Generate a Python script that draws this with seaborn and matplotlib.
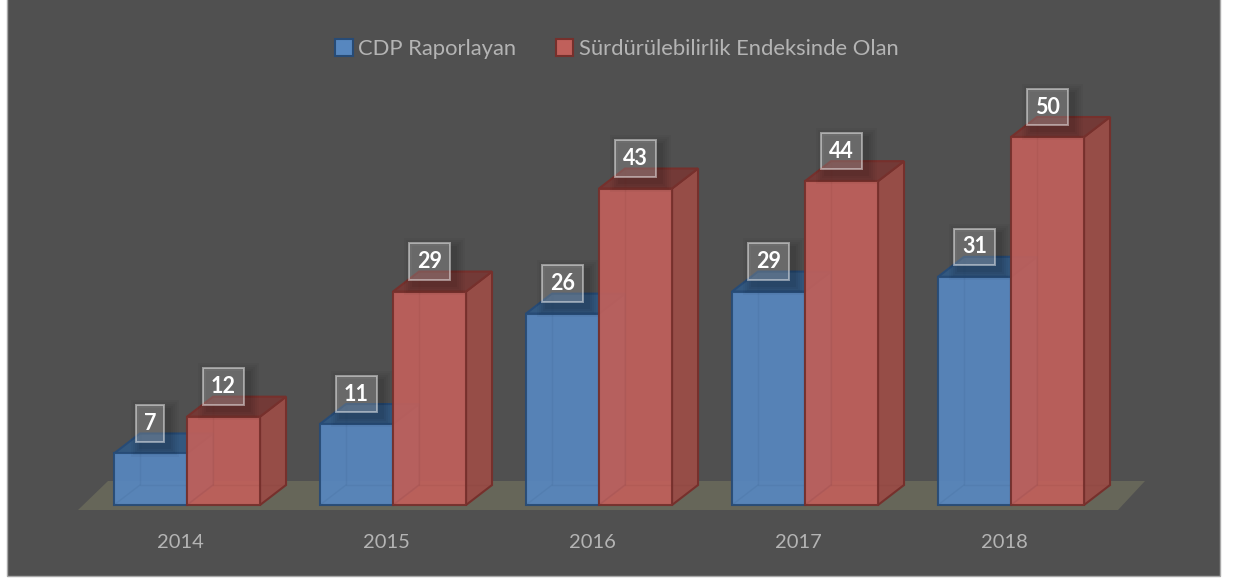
import pandas as pd
import seaborn as sns
import matplotlib.pyplot as plt
from matplotlib.patches import Patch, Polygon, Rectangle
from matplotlib.transforms import ScaledTranslation

years = ["2014", "2015", "2016", "2017", "2018"]
cdp_values = [7, 11, 26, 29, 31]
index_values = [12, 29, 43, 44, 50]
series_names = ["CDP Raporlayan", "Sürdürülebilirlik Endeksinde Olan"]

W, H = 1236, 581
front_colors = ["#5787BF", "#C0605B"]
edge_colors = ["#274B76", "#76302C"]
side_colors = ["#3F648F", "#964D47"]
top_colors = ["#33587F", "#733A37"]

df = pd.DataFrame({
    "yil": years * 2,
    "deger": cdp_values + index_values,
    "seri": [series_names[0]] * 5 + [series_names[1]] * 5,
})

sns.set_theme(style="white")
plt.rcParams["font.family"] = ["Lato", "DejaVu Sans"]

fig = plt.figure(figsize=(W / 100, H / 100), dpi=100, facecolor="white")
# dark panel behind everything, top edge runs off the picture
fig.patches.append(Rectangle((7 / W, 1 - 576 / H), 1213 / W, 580 / H, transform=fig.transFigure,
                             facecolor="#505050", edgecolor="#A8A8A8", linewidth=1, zorder=-1))

# axes runs from the floor line up to the top of the picture
ax = fig.add_axes([84 / W, 1 - 505 / H, 1030 / W, 505 / H])
ax.patch.set_alpha(0)
sns.barplot(data=df, x="yil", y="deger", hue="seri", hue_order=series_names,
            palette=front_colors, saturation=1, width=0.709, gap=0, legend=False,
            linewidth=1.5, ax=ax, zorder=3)
ax.set_xlim(-0.5, 4.5)
ax.set_ylim(0, 505 / 7.36)
sns.despine(ax=ax, left=True, bottom=True)
ax.set_xlabel("")
ax.set_ylabel("")
ax.set_yticks([])
ax.tick_params(axis="x", length=0, pad=21, labelsize=14.5, labelcolor="#B4B4B4")
# year labels sit a little left of the group centre
for lab in ax.get_xticklabels():
    lab.set_transform(lab.get_transform() + ScaledTranslation(-7 / 100, 0, fig.dpi_scale_trans))

dx = 26 / 206
dy = 20 / 7.36

# floor plate
ax.add_patch(Polygon([(-0.5 - 6 / 206, -5 / 7.36), (4.5 + 4 / 206, -5 / 7.36),
                      (4.5 + 31 / 206, 24 / 7.36), (-0.5 + 24 / 206, 24 / 7.36)],
                     facecolor="#666659", edgecolor="none", zorder=1, clip_on=False))

for i, cont in enumerate(ax.containers):
    base_z = 3 + i * 3
    for bar in cont:
        x0, w, h = bar.get_x(), bar.get_width(), bar.get_height()
        bar.set_facecolor(front_colors[i])
        bar.set_edgecolor(edge_colors[i])
        bar.set_alpha(0.93)
        bar.set_zorder(base_z + 2)
        bar.set_clip_on(False)
        ax.add_patch(Polygon([(x0 + w, 0), (x0 + w + dx, dy), (x0 + w + dx, h + dy), (x0 + w, h)],
                             facecolor=side_colors[i], edgecolor=edge_colors[i], linewidth=1.5,
                             zorder=base_z, clip_on=False))
        ax.add_patch(Polygon([(x0, h), (x0 + dx, h + dy), (x0 + w + dx, h + dy), (x0 + w, h)],
                             facecolor=top_colors[i], edgecolor=edge_colors[i], linewidth=1.5,
                             zorder=base_z + 1, clip_on=False))
        # back edges that show through the front face
        ax.plot([x0 + dx, x0 + dx, x0 + w + dx], [h + dy, dy, dy], color=edge_colors[i],
                linewidth=1, alpha=0.1, zorder=base_z + 2.5)
        ax.plot([x0, x0 + dx], [0, dy], color=edge_colors[i], linewidth=1, alpha=0.1,
                zorder=base_z + 2.5)

# value labels, boxes sit a fixed distance above the bar top
labels = []
for cont in ax.containers:
    for bar in cont:
        t = ax.annotate(f"{bar.get_height():.0f}", (bar.get_x() + bar.get_width() / 2, bar.get_height()),
                        xytext=(0, 30 * 0.72), textcoords="offset points", ha="center", va="center",
                        fontsize=15.5, fontweight="bold", color="white", zorder=21,
                        bbox=dict(boxstyle="square,pad=0.36", facecolor=(1, 1, 1, 0.22),
                                  edgecolor=(1, 1, 1, 0.45), linewidth=1.4))
        labels.append(t)

fig.canvas.draw()
for t in labels:
    box = t.get_bbox_patch().get_window_extent()
    # soft shadow under the label box
    for grow, alpha in [(10, 0.03), (8, 0.03), (6, 0.04), (4, 0.04), (2, 0.05)]:
        ax.add_patch(Rectangle((box.x0 + 5 - grow, box.y0 - 5 - grow), box.width + 2 * grow, box.height + 2 * grow,
                               transform=None, facecolor="black", alpha=alpha, edgecolor="none",
                               zorder=20, clip_on=False))

handles = [Patch(facecolor=front_colors[i], edgecolor=edge_colors[i], linewidth=1.5) for i in range(2)]
ax.legend(handles, series_names, loc="center", bbox_to_anchor=(617 / W, 1 - 49 / H),
          bbox_transform=fig.transFigure, ncol=2, frameon=False, fontsize=15.8, labelcolor="#B4B4B4",
          handlelength=0.8, handleheight=0.8, handletextpad=0.25, columnspacing=1.8)

fig.savefig("out.png", dpi=100, facecolor="white")
